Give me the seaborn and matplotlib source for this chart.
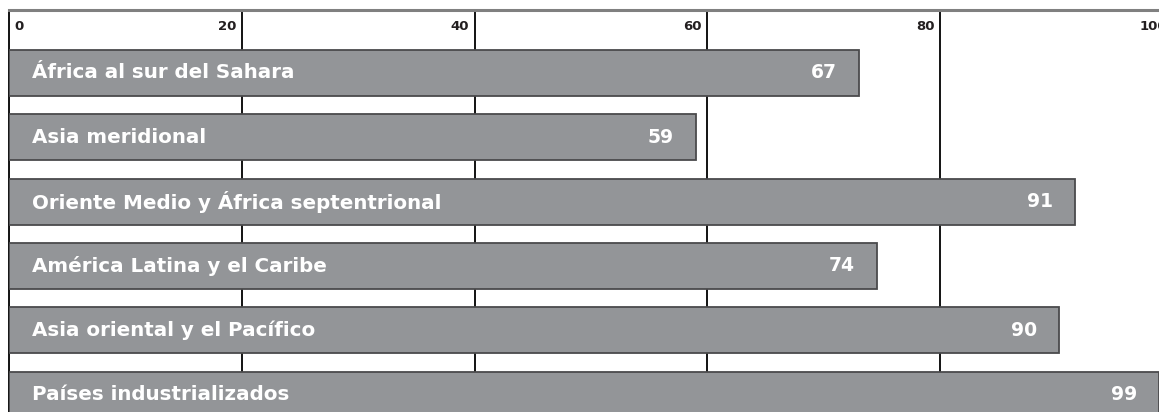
import matplotlib
matplotlib.use("Agg")
import matplotlib.pyplot as plt
import seaborn as sns
import pandas as pd

# ---- data ----
regions = [
    "África al sur del Sahara",
    "Asia meridional",
    "Oriente Medio y África septentrional",
    "América Latina y el Caribe",
    "Asia oriental y el Pacífico",
    "Países industrializados",
]
# bar lengths as drawn in the picture
bar_lengths = [73, 59, 91.6, 74.6, 90.2, 98.8]
# printed values on the bars
value_labels = ["67", "59", "91", "74", "90", "99"]
tick_values = [0, 20, 40, 60, 80, 100]

df = pd.DataFrame({"region": regions, "value": bar_lengths})

sns.set_theme(style="white")
plt.rcParams["font.family"] = ["DejaVu Sans"]

W, H = 1159, 412
fig = plt.figure(figsize=(W / 100, H / 100), dpi=100)
px_per_unit = 11.64
left_px, top_px = 9, 10
ax = fig.add_axes([left_px / W, 0, 100 * px_per_unit / W, (H - top_px) / H])

bar_color = "#939598"
edge_color = "#4a4a4c"

sns.barplot(data=df, x="value", y="region", orient="h", color=bar_color,
            saturation=1, width=0.715, edgecolor=edge_color, linewidth=1.3,
            ax=ax, zorder=3)

pitch = 64.3
center0 = 73
ax.set_xlim(0, 100)
ax.set_ylim((H - center0) / pitch, -(center0 - top_px) / pitch)

for v in tick_values[1:-1]:
    ax.axvline(v, color="black", lw=1.3, zorder=1)

header_y = (26 - center0) / pitch
for v in tick_values:
    if v == 0:
        ax.text(v + 0.45, header_y, str(v), ha="left", va="center",
                fontsize=9.5, fontweight="bold", color="#231f20")
    else:
        ax.text(v - 0.5, header_y, str(v), ha="right", va="center",
                fontsize=9.5, fontweight="bold", color="#231f20")

for i, (name, val, lab) in enumerate(zip(regions, bar_lengths, value_labels)):
    ax.text(2.0, i, name, ha="left", va="center", fontsize=14.3,
            fontweight="bold", color="white", zorder=5)
    ax.annotate(lab, xy=(val, i), xytext=(-16, 0), textcoords="offset points",
                ha="right", va="center", fontsize=13.5, fontweight="bold",
                color="white", zorder=5)

ax.set_xlabel("")
ax.set_ylabel("")
ax.set_xticks([])
ax.set_yticks([])
for s in ["right", "bottom"]:
    ax.spines[s].set_visible(False)
ax.spines["top"].set_color("#808080")
ax.spines["top"].set_linewidth(2.2)
ax.spines["left"].set_color("black")
ax.spines["left"].set_linewidth(1.3)

fig.savefig("out.png", dpi=100)
